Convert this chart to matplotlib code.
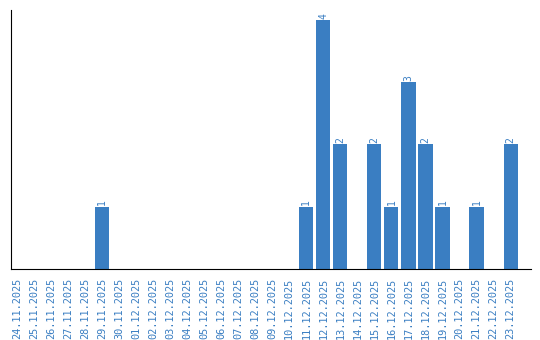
import numpy as np
import matplotlib
matplotlib.use("Agg")
import matplotlib.pyplot as plt

dates = [
    "24.11.2025", "25.11.2025", "26.11.2025", "27.11.2025", "28.11.2025",
    "29.11.2025", "30.11.2025", "01.12.2025", "02.12.2025", "03.12.2025",
    "04.12.2025", "05.12.2025", "06.12.2025", "07.12.2025", "08.12.2025",
    "09.12.2025", "10.12.2025", "11.12.2025", "12.12.2025", "13.12.2025",
    "14.12.2025", "15.12.2025", "16.12.2025", "17.12.2025", "18.12.2025",
    "19.12.2025", "20.12.2025", "21.12.2025", "22.12.2025", "23.12.2025",
]
counts = [0, 0, 0, 0, 0, 1, 0, 0, 0, 0,
          0, 0, 0, 0, 0, 0, 0, 1, 4, 2,
          0, 2, 1, 3, 2, 1, 0, 1, 0, 2]

blue = "#3a7ec2"

fig = plt.figure(figsize=(5.4, 3.4), dpi=100)
ax = fig.add_axes([11 / 540, 71 / 340, 520 / 540, 259 / 340])

x = np.arange(len(dates))
ax.bar(x, counts, width=0.83, color=blue)
for xi, c in zip(x, counts):
    if c > 0:
        ax.text(xi, c + 0.02, str(c), rotation=90, ha="center", va="bottom",
                color=blue, fontsize=7, family="DejaVu Sans Mono")

ax.set_xlim(-0.35, 30.2)
ax.set_ylim(0, 4.16)
ax.set_xticks(x)
ax.set_xticklabels(dates, rotation=90, color=blue, fontsize=7.4,
                   family="DejaVu Sans Mono")
ax.tick_params(axis="x", length=0, pad=6)
ax.set_yticks([])
ax.spines["top"].set_visible(False)
ax.spines["right"].set_visible(False)

fig.savefig("out.png", dpi=100)
